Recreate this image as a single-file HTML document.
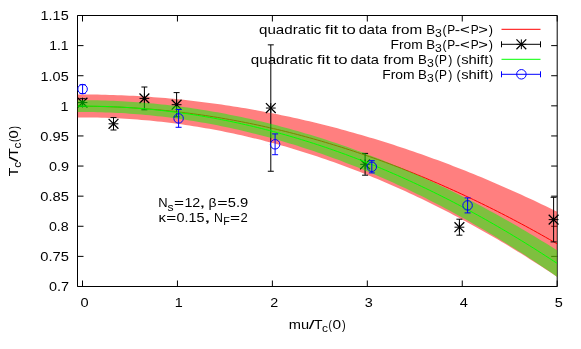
<!DOCTYPE html>
<html><head><meta charset="utf-8"><title>plot</title>
<style>
html,body{margin:0;padding:0;background:#fff;}
body{width:581px;height:349px;overflow:hidden;}
svg{display:block;will-change:transform;}
text{font-family:"Liberation Sans",sans-serif;font-size:13.4px;fill:#000;}
.s{font-size:10.7px;}
</style></head><body>
<svg width="581" height="349" viewBox="0 0 581 349">
<rect width="581" height="349" fill="#fff"/>
<defs><clipPath id="c"><rect x="77.50" y="15.50" width="479.70" height="271.00"/></clipPath></defs>
<path d="M77.50,15.50H557.20V286.50H77.50Z M77.50,15.50h6 M557.20,15.50h-6 M77.50,45.61h6 M557.20,45.61h-6 M77.50,75.72h6 M557.20,75.72h-6 M77.50,105.83h6 M557.20,105.83h-6 M77.50,135.94h6 M557.20,135.94h-6 M77.50,166.05h6 M557.20,166.05h-6 M77.50,196.16h6 M557.20,196.16h-6 M77.50,226.27h6 M557.20,226.27h-6 M77.50,256.38h6 M557.20,256.38h-6 M77.50,286.49h6 M557.20,286.49h-6 M82.50,286.50v-6 M82.50,15.50v6 M177.44,286.50v-6 M177.44,15.50v6 M272.38,286.50v-6 M272.38,15.50v6 M367.32,286.50v-6 M367.32,15.50v6 M462.26,286.50v-6 M462.26,15.50v6 M557.20,286.50v-6 M557.20,15.50v6" fill="none" stroke="#000" stroke-width="1"/>
<text x="40.59" y="20.30" textLength="28.11" lengthAdjust="spacingAndGlyphs">1.15</text>
<text x="49.23" y="50.41" textLength="19.39" lengthAdjust="spacingAndGlyphs">1.1</text>
<text x="40.59" y="80.52" textLength="28.11" lengthAdjust="spacingAndGlyphs">1.05</text>
<text x="60.49" y="110.63" textLength="8.01" lengthAdjust="spacingAndGlyphs">1</text>
<text x="40.30" y="140.74" textLength="28.62" lengthAdjust="spacingAndGlyphs">0.95</text>
<text x="48.91" y="170.85" textLength="20.07" lengthAdjust="spacingAndGlyphs">0.9</text>
<text x="40.30" y="200.96" textLength="28.62" lengthAdjust="spacingAndGlyphs">0.85</text>
<text x="48.92" y="231.07" textLength="19.84" lengthAdjust="spacingAndGlyphs">0.8</text>
<text x="40.30" y="261.18" textLength="28.62" lengthAdjust="spacingAndGlyphs">0.75</text>
<text x="48.91" y="291.29" textLength="20.05" lengthAdjust="spacingAndGlyphs">0.7</text>
<text x="80.41" y="306.70" textLength="8.12" lengthAdjust="spacingAndGlyphs">0</text>
<text x="174.69" y="306.70" textLength="8.01" lengthAdjust="spacingAndGlyphs">1</text>
<text x="270.16" y="306.70" textLength="7.96" lengthAdjust="spacingAndGlyphs">2</text>
<text x="364.87" y="306.70" textLength="8.03" lengthAdjust="spacingAndGlyphs">3</text>
<text x="459.75" y="306.70" textLength="8.10" lengthAdjust="spacingAndGlyphs">4</text>
<text x="554.74" y="306.70" textLength="8.06" lengthAdjust="spacingAndGlyphs">5</text>
<g clip-path="url(#c)">
<polygon points="77.50,94.51 81.50,94.50 85.50,94.51 89.50,94.53 93.50,94.57 97.50,94.62 101.50,94.69 105.50,94.78 109.50,94.88 113.50,95.01 117.50,95.14 121.50,95.30 125.50,95.47 129.50,95.66 133.50,95.86 137.50,96.08 141.50,96.32 145.50,96.58 149.50,96.85 153.50,97.14 157.50,97.44 161.50,97.76 165.50,98.10 169.50,98.45 173.50,98.83 177.50,99.21 181.50,99.62 185.50,100.04 189.50,100.48 193.50,100.93 197.50,101.40 201.50,101.89 205.50,102.39 209.50,102.91 213.50,103.45 217.50,104.01 221.50,104.58 225.50,105.16 229.50,105.77 233.50,106.39 237.50,107.03 241.50,107.68 245.50,108.35 249.50,109.04 253.50,109.74 257.50,110.46 261.50,111.20 265.50,111.95 269.50,112.72 273.50,113.51 277.50,114.31 281.50,115.13 285.50,115.97 289.50,116.82 293.50,117.69 297.50,118.58 301.50,119.49 305.50,120.41 309.50,121.34 313.50,122.30 317.50,123.27 321.50,124.25 325.50,125.26 329.50,126.28 333.50,127.31 337.50,128.37 341.50,129.44 345.50,130.52 349.50,131.63 353.50,132.75 357.50,133.88 361.50,135.04 365.50,136.21 369.50,137.39 373.50,138.59 377.50,139.81 381.50,141.05 385.50,142.30 389.50,143.57 393.50,144.86 397.50,146.16 401.50,147.48 405.50,148.82 409.50,150.17 413.50,151.54 417.50,152.93 421.50,154.33 425.50,155.75 429.50,157.18 433.50,158.64 437.50,160.11 441.50,161.59 445.50,163.10 449.50,164.61 453.50,166.15 457.50,167.70 461.50,169.27 465.50,170.86 469.50,172.46 473.50,174.08 477.50,175.72 481.50,177.37 485.50,179.04 489.50,180.72 493.50,182.42 497.50,184.14 501.50,185.88 505.50,187.63 509.50,189.40 513.50,191.19 517.50,192.99 521.50,194.81 525.50,196.64 529.50,198.49 533.50,200.36 537.50,202.25 541.50,204.15 545.50,206.07 549.50,208.00 553.50,209.96 557.20,211.78 557.20,276.96 553.50,274.49 549.50,271.83 545.50,269.20 541.50,266.59 537.50,264.00 533.50,261.43 529.50,258.89 525.50,256.37 521.50,253.87 517.50,251.40 513.50,248.95 509.50,246.52 505.50,244.11 501.50,241.73 497.50,239.37 493.50,237.03 489.50,234.71 485.50,232.42 481.50,230.15 477.50,227.90 473.50,225.67 469.50,223.47 465.50,221.29 461.50,219.13 457.50,217.00 453.50,214.89 449.50,212.80 445.50,210.73 441.50,208.68 437.50,206.66 433.50,204.66 429.50,202.69 425.50,200.73 421.50,198.80 417.50,196.89 413.50,195.01 409.50,193.14 405.50,191.30 401.50,189.49 397.50,187.69 393.50,185.92 389.50,184.17 385.50,182.44 381.50,180.74 377.50,179.05 373.50,177.39 369.50,175.76 365.50,174.14 361.50,172.55 357.50,170.98 353.50,169.44 349.50,167.91 345.50,166.41 341.50,164.93 337.50,163.48 333.50,162.04 329.50,160.63 325.50,159.25 321.50,157.88 317.50,156.54 313.50,155.22 309.50,153.92 305.50,152.65 301.50,151.39 297.50,150.17 293.50,148.96 289.50,147.77 285.50,146.61 281.50,145.47 277.50,144.36 273.50,143.26 269.50,142.19 265.50,141.15 261.50,140.12 257.50,139.12 253.50,138.14 249.50,137.18 245.50,136.24 241.50,135.33 237.50,134.44 233.50,133.57 229.50,132.73 225.50,131.91 221.50,131.11 217.50,130.33 213.50,129.58 209.50,128.85 205.50,128.14 201.50,127.45 197.50,126.79 193.50,126.15 189.50,125.53 185.50,124.94 181.50,124.36 177.50,123.81 173.50,123.28 169.50,122.78 165.50,122.30 161.50,121.84 157.50,121.40 153.50,120.99 149.50,120.59 145.50,120.23 141.50,119.88 137.50,119.56 133.50,119.25 129.50,118.98 125.50,118.72 121.50,118.49 117.50,118.28 113.50,118.09 109.50,117.92 105.50,117.78 101.50,117.66 97.50,117.56 93.50,117.49 89.50,117.44 85.50,117.41 81.50,117.40 77.50,117.42" fill="#ff0000" fill-opacity="0.5"/>
<polyline points="77.50,106.31 81.50,106.30 85.50,106.31 89.50,106.33 93.50,106.38 97.50,106.44 101.50,106.52 105.50,106.63 109.50,106.75 113.50,106.89 117.50,107.06 121.50,107.24 125.50,107.44 129.50,107.66 133.50,107.90 137.50,108.16 141.50,108.44 145.50,108.74 149.50,109.05 153.50,109.39 157.50,109.75 161.50,110.13 165.50,110.52 169.50,110.94 173.50,111.37 177.50,111.83 181.50,112.30 185.50,112.80 189.50,113.31 193.50,113.84 197.50,114.40 201.50,114.97 205.50,115.56 209.50,116.17 213.50,116.80 217.50,117.45 221.50,118.12 225.50,118.81 229.50,119.52 233.50,120.25 237.50,120.99 241.50,121.76 245.50,122.55 249.50,123.35 253.50,124.18 257.50,125.02 261.50,125.89 265.50,126.77 269.50,127.68 273.50,128.60 277.50,129.54 281.50,130.51 285.50,131.49 289.50,132.49 293.50,133.51 297.50,134.55 301.50,135.61 305.50,136.69 309.50,137.79 313.50,138.91 317.50,140.04 321.50,141.20 325.50,142.38 329.50,143.58 333.50,144.79 337.50,146.03 341.50,147.28 345.50,148.56 349.50,149.85 353.50,151.17 357.50,152.50 361.50,153.85 365.50,155.22 369.50,156.62 373.50,158.03 377.50,159.46 381.50,160.91 385.50,162.38 389.50,163.87 393.50,165.38 397.50,166.90 401.50,168.45 405.50,170.02 409.50,171.61 413.50,173.21 417.50,174.84 421.50,176.48 425.50,178.15 429.50,179.83 433.50,181.54 437.50,183.26 441.50,185.01 445.50,186.77 449.50,188.55 453.50,190.35 457.50,192.17 461.50,194.01 465.50,195.87 469.50,197.75 473.50,199.65 477.50,201.57 481.50,203.51 485.50,205.47 489.50,207.45 493.50,209.44 497.50,211.46 501.50,213.49 505.50,215.55 509.50,217.62 513.50,219.72 517.50,221.83 521.50,223.97 525.50,226.12 529.50,228.29 533.50,230.48 537.50,232.70 541.50,234.93 545.50,237.18 549.50,239.45 553.50,241.74 557.20,243.87" fill="none" stroke="#ff0000" stroke-width="1"/>
</g>
<path d="M82.50,98.70V106.50 M79.50,98.70H85.50 M79.50,106.50H85.50 M82.50,97.70V107.50 M77.60,102.60H87.40 M113.50,117.60V130.00 M110.50,117.60H116.50 M110.50,130.00H116.50 M113.50,118.90V128.70 M108.60,123.80H118.40 M144.40,87.00V109.80 M141.40,87.00H147.40 M141.40,109.80H147.40 M144.40,93.50V103.30 M139.50,98.40H149.30 M176.60,92.60V116.80 M173.60,92.60H179.60 M173.60,116.80H179.60 M176.60,99.80V109.60 M171.70,104.70H181.50 M270.80,44.85V171.25 M267.80,44.85H273.80 M267.80,171.25H273.80 M270.80,103.15V112.95 M265.90,108.05H275.70 M365.10,153.40V175.20 M362.10,153.40H368.10 M362.10,175.20H368.10 M365.10,159.40V169.20 M360.20,164.30H370.00 M459.40,219.20V235.20 M456.40,219.20H462.40 M456.40,235.20H462.40 M459.40,222.30V232.10 M454.50,227.20H464.30 M553.60,197.30V241.90 M550.60,197.30H556.60 M550.60,241.90H556.60 M553.60,214.70V224.50 M548.70,219.60H558.50" fill="none" stroke="#000" stroke-width="1"/>
<path d="M77.60,97.70L87.40,107.50 M77.60,107.50L87.40,97.70 M108.60,118.90L118.40,128.70 M108.60,128.70L118.40,118.90 M139.50,93.50L149.30,103.30 M139.50,103.30L149.30,93.50 M171.70,99.80L181.50,109.60 M171.70,109.60L181.50,99.80 M265.90,103.15L275.70,112.95 M265.90,112.95L275.70,103.15 M360.20,159.40L370.00,169.20 M360.20,169.20L370.00,159.40 M454.50,222.30L464.30,232.10 M454.50,232.10L464.30,222.30 M548.70,214.70L558.50,224.50 M548.70,224.50L558.50,214.70" fill="none" stroke="#000" stroke-width="1.25"/>
<g clip-path="url(#c)">
<polygon points="77.50,100.22 81.50,100.20 85.50,100.21 89.50,100.23 93.50,100.28 97.50,100.35 101.50,100.45 105.50,100.56 109.50,100.69 113.50,100.85 117.50,101.03 121.50,101.22 125.50,101.44 129.50,101.68 133.50,101.95 137.50,102.23 141.50,102.53 145.50,102.86 149.50,103.21 153.50,103.58 157.50,103.97 161.50,104.38 165.50,104.81 169.50,105.26 173.50,105.74 177.50,106.24 181.50,106.75 185.50,107.29 189.50,107.85 193.50,108.44 197.50,109.04 201.50,109.66 205.50,110.31 209.50,110.98 213.50,111.66 217.50,112.37 221.50,113.10 225.50,113.86 229.50,114.63 233.50,115.43 237.50,116.24 241.50,117.08 245.50,117.94 249.50,118.82 253.50,119.72 257.50,120.64 261.50,121.59 265.50,122.55 269.50,123.54 273.50,124.55 277.50,125.58 281.50,126.63 285.50,127.70 289.50,128.79 293.50,129.91 297.50,131.04 301.50,132.20 305.50,133.38 309.50,134.58 313.50,135.80 317.50,137.04 321.50,138.31 325.50,139.59 329.50,140.90 333.50,142.23 337.50,143.57 341.50,144.94 345.50,146.34 349.50,147.75 353.50,149.18 357.50,150.64 361.50,152.12 365.50,153.61 369.50,155.13 373.50,156.68 377.50,158.24 381.50,159.82 385.50,161.43 389.50,163.05 393.50,164.70 397.50,166.37 401.50,168.06 405.50,169.77 409.50,171.50 413.50,173.26 417.50,175.03 421.50,176.83 425.50,178.65 429.50,180.48 433.50,182.35 437.50,184.23 441.50,186.13 445.50,188.05 449.50,190.00 453.50,191.97 457.50,193.96 461.50,195.97 465.50,198.00 469.50,200.05 473.50,202.12 477.50,204.22 481.50,206.33 485.50,208.47 489.50,210.63 493.50,212.81 497.50,215.01 501.50,217.24 505.50,219.48 509.50,221.74 513.50,224.03 517.50,226.34 521.50,228.67 525.50,231.02 529.50,233.39 533.50,235.79 537.50,238.20 541.50,240.64 545.50,243.09 549.50,245.57 553.50,248.07 557.20,250.40 557.20,276.88 553.50,274.33 549.50,271.58 545.50,268.86 541.50,266.16 537.50,263.49 533.50,260.84 529.50,258.21 525.50,255.61 521.50,253.03 517.50,250.47 513.50,247.94 509.50,245.43 505.50,242.94 501.50,240.48 497.50,238.04 493.50,235.62 489.50,233.23 485.50,230.86 481.50,228.51 477.50,226.19 473.50,223.89 469.50,221.61 465.50,219.36 461.50,217.13 457.50,214.92 453.50,212.74 449.50,210.58 445.50,208.44 441.50,206.33 437.50,204.24 433.50,202.17 429.50,200.13 425.50,198.11 421.50,196.12 417.50,194.15 413.50,192.20 409.50,190.27 405.50,188.37 401.50,186.49 397.50,184.64 393.50,182.80 389.50,181.00 385.50,179.21 381.50,177.45 377.50,175.71 373.50,174.00 369.50,172.30 365.50,170.64 361.50,168.99 357.50,167.37 353.50,165.77 349.50,164.20 345.50,162.65 341.50,161.12 337.50,159.61 333.50,158.13 329.50,156.68 325.50,155.24 321.50,153.83 317.50,152.44 313.50,151.08 309.50,149.74 305.50,148.42 301.50,147.13 297.50,145.86 293.50,144.61 289.50,143.39 285.50,142.19 281.50,141.01 277.50,139.86 273.50,138.73 269.50,137.62 265.50,136.54 261.50,135.48 257.50,134.44 253.50,133.43 249.50,132.44 245.50,131.47 241.50,130.53 237.50,129.61 233.50,128.71 229.50,127.84 225.50,126.99 221.50,126.17 217.50,125.36 213.50,124.58 209.50,123.83 205.50,123.10 201.50,122.39 197.50,121.70 193.50,121.04 189.50,120.40 185.50,119.79 181.50,119.19 177.50,118.63 173.50,118.08 169.50,117.56 165.50,117.06 161.50,116.59 157.50,116.13 153.50,115.71 149.50,115.30 145.50,114.92 141.50,114.56 137.50,114.23 133.50,113.92 129.50,113.63 125.50,113.36 121.50,113.12 117.50,112.91 113.50,112.71 109.50,112.54 105.50,112.39 101.50,112.27 97.50,112.17 93.50,112.09 89.50,112.04 85.50,112.01 81.50,112.00 77.50,112.02" fill="#00ff00" fill-opacity="0.5"/>
<polyline points="77.50,106.12 81.50,106.10 85.50,106.11 89.50,106.14 93.50,106.19 97.50,106.26 101.50,106.36 105.50,106.48 109.50,106.62 113.50,106.78 117.50,106.96 121.50,107.17 125.50,107.40 129.50,107.65 133.50,107.93 137.50,108.23 141.50,108.55 145.50,108.89 149.50,109.25 153.50,109.64 157.50,110.05 161.50,110.48 165.50,110.93 169.50,111.41 173.50,111.90 177.50,112.42 181.50,112.97 185.50,113.53 189.50,114.12 193.50,114.73 197.50,115.36 201.50,116.01 205.50,116.69 209.50,117.39 213.50,118.11 217.50,118.85 221.50,119.62 225.50,120.41 229.50,121.22 233.50,122.05 237.50,122.91 241.50,123.78 245.50,124.68 249.50,125.60 253.50,126.55 257.50,127.52 261.50,128.50 265.50,129.52 269.50,130.55 273.50,131.61 277.50,132.68 281.50,133.79 285.50,134.91 289.50,136.05 293.50,137.22 297.50,138.41 301.50,139.62 305.50,140.86 309.50,142.12 313.50,143.39 317.50,144.70 321.50,146.02 325.50,147.37 329.50,148.73 333.50,150.13 337.50,151.54 341.50,152.97 345.50,154.43 349.50,155.91 353.50,157.42 357.50,158.94 361.50,160.49 365.50,162.06 369.50,163.65 373.50,165.26 377.50,166.90 381.50,168.56 385.50,170.24 389.50,171.94 393.50,173.67 397.50,175.42 401.50,177.19 405.50,178.98 409.50,180.80 413.50,182.63 417.50,184.49 421.50,186.38 425.50,188.28 429.50,190.21 433.50,192.16 437.50,194.13 441.50,196.12 445.50,198.14 449.50,200.17 453.50,202.24 457.50,204.32 461.50,206.42 465.50,208.55 469.50,210.70 473.50,212.87 477.50,215.07 481.50,217.29 485.50,219.53 489.50,221.79 493.50,224.07 497.50,226.38 501.50,228.71 505.50,231.06 509.50,233.43 513.50,235.83 517.50,238.24 521.50,240.68 525.50,243.15 529.50,245.63 533.50,248.14 537.50,250.67 541.50,253.22 545.50,255.79 549.50,258.39 553.50,261.01 557.20,263.45" fill="none" stroke="#00ff00" stroke-width="1"/>
</g>
<path d="M82.60,84.70V93.50 M79.60,84.70H85.60 M79.60,93.50H85.60 M178.60,109.50V127.30 M175.60,109.50H181.60 M175.60,127.30H181.60 M275.10,133.90V154.70 M272.10,133.90H278.10 M272.10,154.70H278.10 M371.80,160.70V172.90 M368.80,160.70H374.80 M368.80,172.90H374.80 M467.60,197.90V212.90 M464.60,197.90H470.60 M464.60,212.90H470.60" fill="none" stroke="#0000ff" stroke-width="1"/>
<circle cx="82.60" cy="89.10" r="4.75" fill="none" stroke="#0000ff" stroke-width="1"/>
<circle cx="178.60" cy="118.40" r="4.75" fill="none" stroke="#0000ff" stroke-width="1"/>
<circle cx="275.10" cy="144.30" r="4.75" fill="none" stroke="#0000ff" stroke-width="1"/>
<circle cx="371.80" cy="166.80" r="4.75" fill="none" stroke="#0000ff" stroke-width="1"/>
<circle cx="467.60" cy="205.40" r="4.75" fill="none" stroke="#0000ff" stroke-width="1"/>
<path d="M501.5,29.3H540.5" stroke="#ff0000" fill="none"/>
<path d="M501.50,44.30H540.50 M501.50,41.30V47.30 M540.50,41.30V47.30 M521.35,39.40V49.20 M516.45,44.30H526.25" stroke="#000" fill="none"/>
<path d="M516.45,39.40L526.25,49.20 M516.45,49.20L526.25,39.40" stroke="#000" stroke-width="1.25" fill="none"/>
<path d="M501.5,59.3H540.5" stroke="#00ff00" fill="none"/>
<path d="M501.50,74.30H540.50 M501.50,71.30V77.30 M540.50,71.30V77.30" stroke="#0000ff" fill="none"/>
<circle cx="521.4" cy="74.3" r="4.75" fill="none" stroke="#0000ff"/>
<text x="259.03" y="34.00" textLength="62.32" lengthAdjust="spacingAndGlyphs">quadratic</text>
<text x="324.86" y="34.00" textLength="13.60" lengthAdjust="spacingAndGlyphs">fit</text>
<text x="341.85" y="34.00" textLength="13.90" lengthAdjust="spacingAndGlyphs">to</text>
<text x="358.66" y="34.00" textLength="28.47" lengthAdjust="spacingAndGlyphs">data</text>
<text x="391.78" y="34.00" textLength="30.47" lengthAdjust="spacingAndGlyphs">from</text>
<text x="250.83" y="64.00" textLength="62.32" lengthAdjust="spacingAndGlyphs">quadratic</text>
<text x="316.66" y="64.00" textLength="13.60" lengthAdjust="spacingAndGlyphs">fit</text>
<text x="333.65" y="64.00" textLength="13.90" lengthAdjust="spacingAndGlyphs">to</text>
<text x="350.46" y="64.00" textLength="28.47" lengthAdjust="spacingAndGlyphs">data</text>
<text x="383.58" y="64.00" textLength="30.47" lengthAdjust="spacingAndGlyphs">from</text>
<text x="390.45" y="49.00" textLength="32.30" lengthAdjust="spacingAndGlyphs">From</text>
<text x="382.25" y="79.00" textLength="32.30" lengthAdjust="spacingAndGlyphs">From</text>
<text x="426.20" y="34.00" textLength="8.88" lengthAdjust="spacingAndGlyphs">B</text>
<text x="435.10" y="37.20" class="s" textLength="6.81" lengthAdjust="spacingAndGlyphs">3</text>
<text x="442.61" y="34.00" textLength="4.08" lengthAdjust="spacingAndGlyphs">(</text>
<text x="447.20" y="34.00" textLength="7.92" lengthAdjust="spacingAndGlyphs">P</text>
<text x="426.20" y="49.00" textLength="8.88" lengthAdjust="spacingAndGlyphs">B</text>
<text x="435.10" y="52.20" class="s" textLength="6.81" lengthAdjust="spacingAndGlyphs">3</text>
<text x="442.61" y="49.00" textLength="4.08" lengthAdjust="spacingAndGlyphs">(</text>
<text x="447.20" y="49.00" textLength="7.92" lengthAdjust="spacingAndGlyphs">P</text>
<text x="418.00" y="64.00" textLength="8.88" lengthAdjust="spacingAndGlyphs">B</text>
<text x="426.90" y="67.20" class="s" textLength="6.81" lengthAdjust="spacingAndGlyphs">3</text>
<text x="434.41" y="64.00" textLength="4.08" lengthAdjust="spacingAndGlyphs">(</text>
<text x="439.00" y="64.00" textLength="7.92" lengthAdjust="spacingAndGlyphs">P</text>
<text x="418.00" y="79.00" textLength="8.88" lengthAdjust="spacingAndGlyphs">B</text>
<text x="426.90" y="82.20" class="s" textLength="6.81" lengthAdjust="spacingAndGlyphs">3</text>
<text x="434.41" y="79.00" textLength="4.08" lengthAdjust="spacingAndGlyphs">(</text>
<text x="439.00" y="79.00" textLength="7.92" lengthAdjust="spacingAndGlyphs">P</text>
<text x="454.76" y="34.00" textLength="5.33" lengthAdjust="spacingAndGlyphs">-</text>
<text x="460.07" y="34.00" textLength="9.82" lengthAdjust="spacingAndGlyphs">&lt;</text>
<text x="470.70" y="34.00" textLength="7.92" lengthAdjust="spacingAndGlyphs">P</text>
<text x="478.39" y="34.00" textLength="9.65" lengthAdjust="spacingAndGlyphs">&gt;</text>
<text x="488.82" y="34.00" textLength="4.23" lengthAdjust="spacingAndGlyphs">)</text>
<text x="454.76" y="49.00" textLength="5.33" lengthAdjust="spacingAndGlyphs">-</text>
<text x="460.07" y="49.00" textLength="9.82" lengthAdjust="spacingAndGlyphs">&lt;</text>
<text x="470.70" y="49.00" textLength="7.92" lengthAdjust="spacingAndGlyphs">P</text>
<text x="478.39" y="49.00" textLength="9.65" lengthAdjust="spacingAndGlyphs">&gt;</text>
<text x="488.82" y="49.00" textLength="4.23" lengthAdjust="spacingAndGlyphs">)</text>
<text x="448.24" y="64.00" textLength="4.08" lengthAdjust="spacingAndGlyphs">)</text>
<text x="456.38" y="64.00" textLength="4.25" lengthAdjust="spacingAndGlyphs">(</text>
<text x="461.23" y="64.00" textLength="27.13" lengthAdjust="spacingAndGlyphs">shift</text>
<text x="489.12" y="64.00" textLength="4.23" lengthAdjust="spacingAndGlyphs">)</text>
<text x="448.24" y="79.00" textLength="4.08" lengthAdjust="spacingAndGlyphs">)</text>
<text x="456.38" y="79.00" textLength="4.25" lengthAdjust="spacingAndGlyphs">(</text>
<text x="461.23" y="79.00" textLength="27.13" lengthAdjust="spacingAndGlyphs">shift</text>
<text x="489.12" y="79.00" textLength="4.23" lengthAdjust="spacingAndGlyphs">)</text>
<text x="158.34" y="207.30" textLength="9.33" lengthAdjust="spacingAndGlyphs">N</text>
<text x="167.54" y="210.60" class="s" textLength="6.10" lengthAdjust="spacingAndGlyphs">s</text>
<text x="173.96" y="207.30" textLength="10.00" lengthAdjust="spacingAndGlyphs">=</text>
<text x="184.41" y="207.30" textLength="15.86" lengthAdjust="spacingAndGlyphs">12</text>
<text x="199.36" y="207.30" textLength="6.32" lengthAdjust="spacingAndGlyphs">,</text>
<text x="208.60" y="207.30" textLength="8.02" lengthAdjust="spacingAndGlyphs">β</text>
<text x="217.23" y="207.30" textLength="10.36" lengthAdjust="spacingAndGlyphs">=</text>
<text x="227.83" y="207.30" textLength="20.46" lengthAdjust="spacingAndGlyphs">5.9</text>
<text x="158.40" y="222.30" textLength="7.44" lengthAdjust="spacingAndGlyphs">κ</text>
<text x="166.36" y="222.30" textLength="10.00" lengthAdjust="spacingAndGlyphs">=</text>
<text x="176.62" y="222.30" textLength="27.99" lengthAdjust="spacingAndGlyphs">0.15</text>
<text x="203.86" y="222.30" textLength="7.23" lengthAdjust="spacingAndGlyphs">,</text>
<text x="213.99" y="222.30" textLength="8.93" lengthAdjust="spacingAndGlyphs">N</text>
<text x="223.13" y="224.70" class="s" textLength="6.54" lengthAdjust="spacingAndGlyphs">F</text>
<text x="229.96" y="222.30" textLength="10.01" lengthAdjust="spacingAndGlyphs">=</text>
<text x="240.43" y="222.30" textLength="7.25" lengthAdjust="spacingAndGlyphs">2</text>
<text x="288.70" y="328.60" textLength="20.35" lengthAdjust="spacingAndGlyphs">mu</text>
<text x="308.76" y="328.60" textLength="5.79" lengthAdjust="spacingAndGlyphs">/</text>
<text x="313.97" y="328.60" textLength="8.55" lengthAdjust="spacingAndGlyphs">T</text>
<text x="321.93" y="331.90" class="s" textLength="5.96" lengthAdjust="spacingAndGlyphs">c</text>
<text x="328.54" y="328.60" textLength="3.41" lengthAdjust="spacingAndGlyphs">(</text>
<text x="332.48" y="328.60" textLength="8.60" lengthAdjust="spacingAndGlyphs">0</text>
<text x="341.88" y="328.60" textLength="3.67" lengthAdjust="spacingAndGlyphs">)</text>
<g transform="translate(17.7,175.8) rotate(-90)">
<text x="-0.33" y="0.00" textLength="8.55" lengthAdjust="spacingAndGlyphs">T</text>
<text x="8.03" y="3.30" class="s" textLength="5.96" lengthAdjust="spacingAndGlyphs">c</text>
<text x="13.66" y="0.00" textLength="5.91" lengthAdjust="spacingAndGlyphs">/</text>
<text x="18.97" y="0.00" textLength="8.55" lengthAdjust="spacingAndGlyphs">T</text>
<text x="27.33" y="3.30" class="s" textLength="5.96" lengthAdjust="spacingAndGlyphs">c</text>
<text x="33.84" y="0.00" textLength="3.41" lengthAdjust="spacingAndGlyphs">(</text>
<text x="37.40" y="0.00" textLength="8.24" lengthAdjust="spacingAndGlyphs">0</text>
<text x="46.20" y="0.00" textLength="3.53" lengthAdjust="spacingAndGlyphs">)</text>
</g>
</svg></body></html>
